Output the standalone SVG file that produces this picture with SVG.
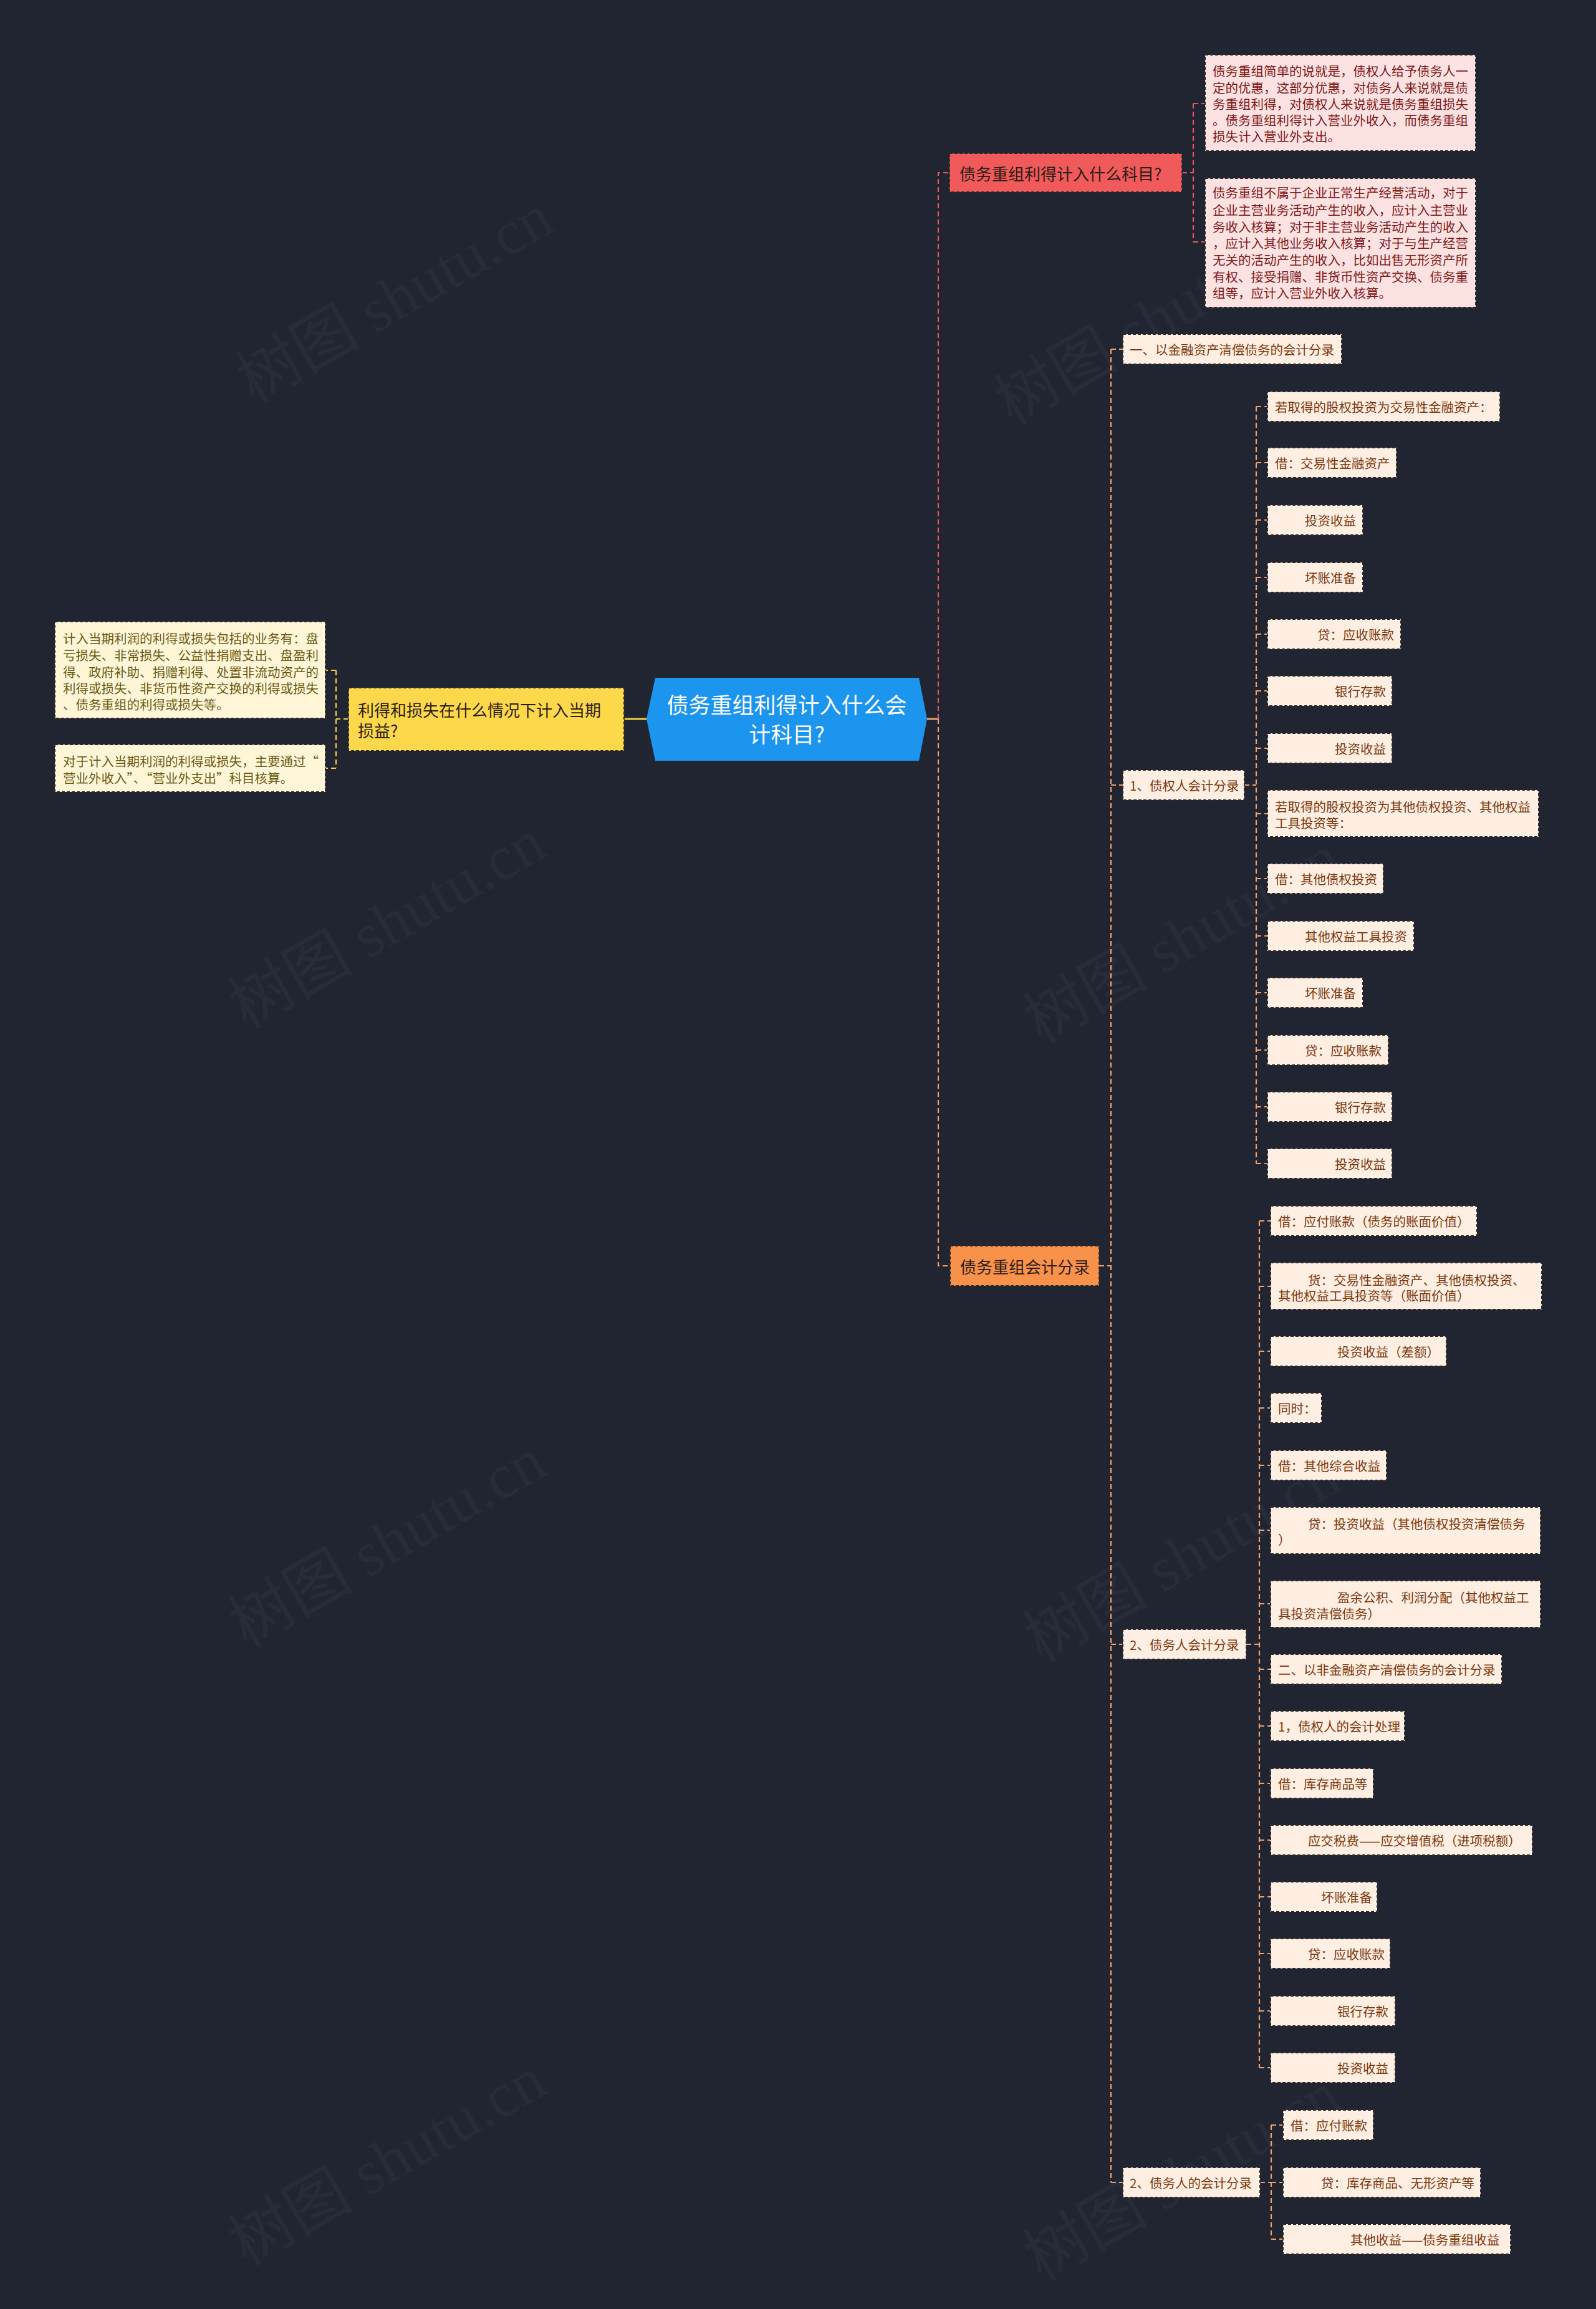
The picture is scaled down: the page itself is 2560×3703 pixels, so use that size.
<svg xmlns="http://www.w3.org/2000/svg" width="2560" height="3703" viewBox="0 0 2560 3703">
<style>
text{font-family:"Noto Sans CJK SC","Noto Sans",sans-serif;dominant-baseline:central}
.wm{font-family:"Liberation Serif","Noto Sans CJK SC",serif;font-size:100px;fill:#ffffff;fill-opacity:0.035;dominant-baseline:auto}
.bd{stroke:#2b2b2b;stroke-width:2;stroke-dasharray:5 3}
.peach{fill:#ffeee2}
.pt{font-size:20.5px;fill:#7a3a10}
.pink{fill:#fde2e2}
.pkt{font-size:20.5px;fill:#7f1a1a}
.cream{fill:#fff6d8}
.ct{font-size:20.5px;fill:#6b5a14}
.mt{font-size:26px;fill:#2a1c14}
.c{fill:none;stroke-width:2.2;stroke-dasharray:8 5}
.co{stroke:#f0a06c}
.cr{stroke:#e5575a}
.cy{stroke:#f2cf42}
</style>
<rect x="0" y="0" width="2560" height="3703" fill="#212431"/>
<g id="watermarks">
<text class="wm" x="650" y="508" text-anchor="middle" transform="rotate(-30 650 508)">树图 shutu.cn</text>
<text class="wm" x="1866" y="543" text-anchor="middle" transform="rotate(-30 1866 543)">树图 shutu.cn</text>
<text class="wm" x="638" y="1511" text-anchor="middle" transform="rotate(-30 638 1511)">树图 shutu.cn</text>
<text class="wm" x="1913" y="1535" text-anchor="middle" transform="rotate(-30 1913 1535)">树图 shutu.cn</text>
<text class="wm" x="638" y="2503" text-anchor="middle" transform="rotate(-30 638 2503)">树图 shutu.cn</text>
<text class="wm" x="1913" y="2527" text-anchor="middle" transform="rotate(-30 1913 2527)">树图 shutu.cn</text>
<text class="wm" x="638" y="3495" text-anchor="middle" transform="rotate(-30 638 3495)">树图 shutu.cn</text>
<text class="wm" x="1913" y="3519" text-anchor="middle" transform="rotate(-30 1913 3519)">树图 shutu.cn</text>
</g>
<g id="connectors">
<path d="M1487 1153 H1505" fill="none" stroke="#f0a06c" stroke-width="3"/>
<path class="c cr" d="M1505 1153 V277 H1523"/>
<path class="c co" d="M1505 1153 V2030 H1524"/>
<path d="M1037 1153 H1001" fill="none" stroke="#f2cf42" stroke-width="3"/>
<path class="c cy" d="M559 1153 H539 M539 1075 V1232 M539 1075 H522 M539 1232 H522"/>
<path class="c cr" d="M1896 277 H1914 M1914 166 V388 M1914 166 H1933 M1914 388 H1933"/>
<path class="c co" d="M1763 2030 H1782 M1782 560 V3500 M1782 560 H1801 M1782 1259 H1801 M1782 2637 H1801 M1782 3500 H1801"/>
<path class="c co" d="M1996 1259 H2015 M2015 652 V1866 M2015 652 H2033 M2015 742 H2033 M2015 834 H2033 M2015 926 H2033 M2015 1017 H2033 M2015 1108 H2033 M2015 1200 H2033 M2015 1305 H2033 M2015 1409 H2033 M2015 1501 H2033 M2015 1592 H2033 M2015 1684 H2033 M2015 1775 H2033 M2015 1866 H2033"/>
<path class="c co" d="M1999 2637 H2020 M2020 1958 V3316 M2020 1958 H2038 M2020 2063 H2038 M2020 2167 H2038 M2020 2258 H2038 M2020 2350 H2038 M2020 2454 H2038 M2020 2572 H2038 M2020 2677 H2038 M2020 2768 H2038 M2020 2860 H2038 M2020 2951 H2038 M2020 3042 H2038 M2020 3133 H2038 M2020 3225 H2038 M2020 3316 H2038"/>
<path class="c co" d="M2021 3500 H2039 M2039 3408 V3591 M2039 3408 H2058 M2039 3500 H2058 M2039 3591 H2058"/>
</g>
<g id="root">
<polygon points="1037,1153 1051,1087 1474,1087 1487,1153 1474,1220 1051,1220" fill="#1b95ee"/>
<text x="1262" y="1128" text-anchor="middle" font-size="35" fill="#ffffff">债务重组利得计入什么会</text>
<text x="1262" y="1175" text-anchor="middle" font-size="35" fill="#ffffff">计科目?</text>
</g>
<g id="n-left">
<rect x="559" y="1103" width="442" height="101" fill="#fdd84a" class="bd"/>
<text x="574" y="1137" class="mt" fill="#2e2610">利得和损失在什么情况下计入当期</text>
<text x="574" y="1170" class="mt">损益?</text>
</g>
<g id="n-left-1">
<rect x="88" y="997" width="434" height="155" class="cream bd"/>
<text class="ct" x="101" y="1023">计入当期利润的利得或损失包括的业务有：盘</text>
<text class="ct" x="101" y="1050">亏损失、非常损失、公益性捐赠支出、盘盈利</text>
<text class="ct" x="101" y="1077">得、政府补助、捐赠利得、处置非流动资产的</text>
<text class="ct" x="101" y="1103">利得或损失、非货币性资产交换的利得或损失</text>
<text class="ct" x="101" y="1129">、债务重组的利得或损失等。</text>
</g>
<g id="n-left-2">
<rect x="88" y="1194" width="434" height="76" class="cream bd"/>
<text class="ct" x="101" y="1220">对于计入当期利润的利得或损失，主要通过“</text>
<text class="ct" x="101" y="1247">营业外收入”、“营业外支出”科目核算。</text>
</g>
<g id="n-red">
<rect x="1523" y="246" width="373" height="62" fill="#f05a5b" class="bd"/>
<text x="1539" y="277" class="mt">债务重组利得计入什么科目?</text>
</g>
<g id="n-red-1">
<rect x="1933" y="88" width="434" height="154" class="pink bd"/>
<text class="pkt" x="1945" y="113">债务重组简单的说就是，债权人给予债务人一</text>
<text class="pkt" x="1945" y="140">定的优惠，这部分优惠，对债务人来说就是债</text>
<text class="pkt" x="1945" y="166">务重组利得，对债权人来说就是债务重组损失</text>
<text class="pkt" x="1945" y="192">。债务重组利得计入营业外收入，而债务重组</text>
<text class="pkt" x="1945" y="218">损失计入营业外支出。</text>
</g>
<g id="n-red-2">
<rect x="1933" y="286" width="434" height="207" class="pink bd"/>
<text class="pkt" x="1945" y="308">债务重组不属于企业正常生产经营活动，对于</text>
<text class="pkt" x="1945" y="336">企业主营业务活动产生的收入，应计入主营业</text>
<text class="pkt" x="1945" y="363">务收入核算；对于非主营业务活动产生的收入</text>
<text class="pkt" x="1945" y="389">，应计入其他业务收入核算；对于与生产经营</text>
<text class="pkt" x="1945" y="416">无关的活动产生的收入，比如出售无形资产所</text>
<text class="pkt" x="1945" y="443">有权、接受捐赠、非货币性资产交换、债务重</text>
<text class="pkt" x="1945" y="469">组等，应计入营业外收入核算。</text>
</g>
<g id="n-orange">
<rect x="1524" y="1998" width="239" height="64" fill="#f8914a" class="bd"/>
<text x="1540" y="2030" class="mt">债务重组会计分录</text>
</g>
<g id="l2-a"><rect x="1801" y="536" width="351" height="48" class="peach bd"/><text class="pt" x="1812" y="560">一、以金融资产清偿债务的会计分录</text></g>
<g id="l2-b"><rect x="1801" y="1235" width="195" height="48" class="peach bd"/><text class="pt" x="1812" y="1259">1、债权人会计分录</text></g>
<g id="l2-c"><rect x="1801" y="2613" width="198" height="48" class="peach bd"/><text class="pt" x="1812" y="2637">2、债务人会计分录</text></g>
<g id="l2-d"><rect x="1801" y="3476" width="220" height="48" class="peach bd"/><text class="pt" x="1812" y="3500">2、债务人的会计分录</text></g>
<g id="b-1"><rect x="2033" y="628" width="373" height="48" class="peach bd"/><text class="pt" x="2045" y="652">若取得的股权投资为交易性金融资产：</text></g>
<g id="b-2"><rect x="2033" y="718" width="207" height="48" class="peach bd"/><text class="pt" x="2045" y="742">借：交易性金融资产</text></g>
<g id="b-3"><rect x="2033" y="810" width="153" height="48" class="peach bd"/><text class="pt" x="2093" y="834">投资收益</text></g>
<g id="b-4"><rect x="2033" y="902" width="153" height="48" class="peach bd"/><text class="pt" x="2093" y="926">坏账准备</text></g>
<g id="b-5"><rect x="2033" y="993" width="214" height="48" class="peach bd"/><text class="pt" x="2113" y="1017">贷：应收账款</text></g>
<g id="b-6"><rect x="2033" y="1084" width="200" height="48" class="peach bd"/><text class="pt" x="2141" y="1108">银行存款</text></g>
<g id="b-7"><rect x="2033" y="1176" width="200" height="48" class="peach bd"/><text class="pt" x="2141" y="1200">投资收益</text></g>
<g id="b-8"><rect x="2033" y="1267" width="435" height="75" class="peach bd"/><text class="pt" x="2045" y="1293">若取得的股权投资为其他债权投资、其他权益</text><text class="pt" x="2045" y="1319">工具投资等：</text></g>
<g id="b-9"><rect x="2033" y="1385" width="186" height="48" class="peach bd"/><text class="pt" x="2045" y="1409">借：其他债权投资</text></g>
<g id="b-10"><rect x="2033" y="1477" width="235" height="48" class="peach bd"/><text class="pt" x="2093" y="1501">其他权益工具投资</text></g>
<g id="b-11"><rect x="2033" y="1568" width="153" height="48" class="peach bd"/><text class="pt" x="2093" y="1592">坏账准备</text></g>
<g id="b-12"><rect x="2033" y="1660" width="194" height="48" class="peach bd"/><text class="pt" x="2093" y="1684">贷：应收账款</text></g>
<g id="b-13"><rect x="2033" y="1751" width="200" height="48" class="peach bd"/><text class="pt" x="2141" y="1775">银行存款</text></g>
<g id="b-14"><rect x="2033" y="1842" width="200" height="48" class="peach bd"/><text class="pt" x="2141" y="1866">投资收益</text></g>
<g id="c-1"><rect x="2038" y="1934" width="331" height="48" class="peach bd"/><text class="pt" x="2050" y="1958">借：应付账款（债务的账面价值）</text></g>
<g id="c-2"><rect x="2038" y="2025" width="435" height="75" class="peach bd"/><text class="pt" x="2098" y="2052">货：交易性金融资产、其他债权投资、</text><text class="pt" x="2050" y="2077">其他权益工具投资等（账面价值）</text></g>
<g id="c-3"><rect x="2038" y="2143" width="282" height="48" class="peach bd"/><text class="pt" x="2145" y="2167">投资收益（差额）</text></g>
<g id="c-4"><rect x="2038" y="2234" width="82" height="48" class="peach bd"/><text class="pt" x="2050" y="2258">同时：</text></g>
<g id="c-5"><rect x="2038" y="2326" width="186" height="48" class="peach bd"/><text class="pt" x="2050" y="2350">借：其他综合收益</text></g>
<g id="c-6"><rect x="2038" y="2417" width="433" height="75" class="peach bd"/><text class="pt" x="2098" y="2443">贷：投资收益（其他债权投资清偿债务</text><text class="pt" x="2050" y="2468">）</text></g>
<g id="c-7"><rect x="2038" y="2535" width="433" height="75" class="peach bd"/><text class="pt" x="2145" y="2561">盈余公积、利润分配（其他权益工</text><text class="pt" x="2050" y="2587">具投资清偿债务）</text></g>
<g id="c-8"><rect x="2038" y="2653" width="371" height="48" class="peach bd"/><text class="pt" x="2050" y="2677">二、以非金融资产清偿债务的会计分录</text></g>
<g id="c-9"><rect x="2038" y="2744" width="215" height="48" class="peach bd"/><text class="pt" x="2050" y="2768">1，债权人的会计处理</text></g>
<g id="c-10"><rect x="2038" y="2836" width="165" height="48" class="peach bd"/><text class="pt" x="2050" y="2860">借：库存商品等</text></g>
<g id="c-11"><rect x="2038" y="2927" width="420" height="48" class="peach bd"/><text class="pt" x="2098" y="2951">应交税费——应交增值税（进项税额）</text></g>
<g id="c-12"><rect x="2038" y="3018" width="171" height="48" class="peach bd"/><text class="pt" x="2119" y="3042">坏账准备</text></g>
<g id="c-13"><rect x="2038" y="3109" width="192" height="48" class="peach bd"/><text class="pt" x="2098" y="3133">贷：应收账款</text></g>
<g id="c-14"><rect x="2038" y="3201" width="200" height="48" class="peach bd"/><text class="pt" x="2145" y="3225">银行存款</text></g>
<g id="c-15"><rect x="2038" y="3292" width="200" height="48" class="peach bd"/><text class="pt" x="2145" y="3316">投资收益</text></g>
<g id="d-1"><rect x="2058" y="3384" width="145" height="48" class="peach bd"/><text class="pt" x="2070" y="3408">借：应付账款</text></g>
<g id="d-2"><rect x="2058" y="3476" width="317" height="48" class="peach bd"/><text class="pt" x="2119" y="3500">贷：库存商品、无形资产等</text></g>
<g id="d-3"><rect x="2058" y="3567" width="365" height="48" class="peach bd"/><text class="pt" x="2166" y="3591">其他收益——债务重组收益</text></g>
</svg>
